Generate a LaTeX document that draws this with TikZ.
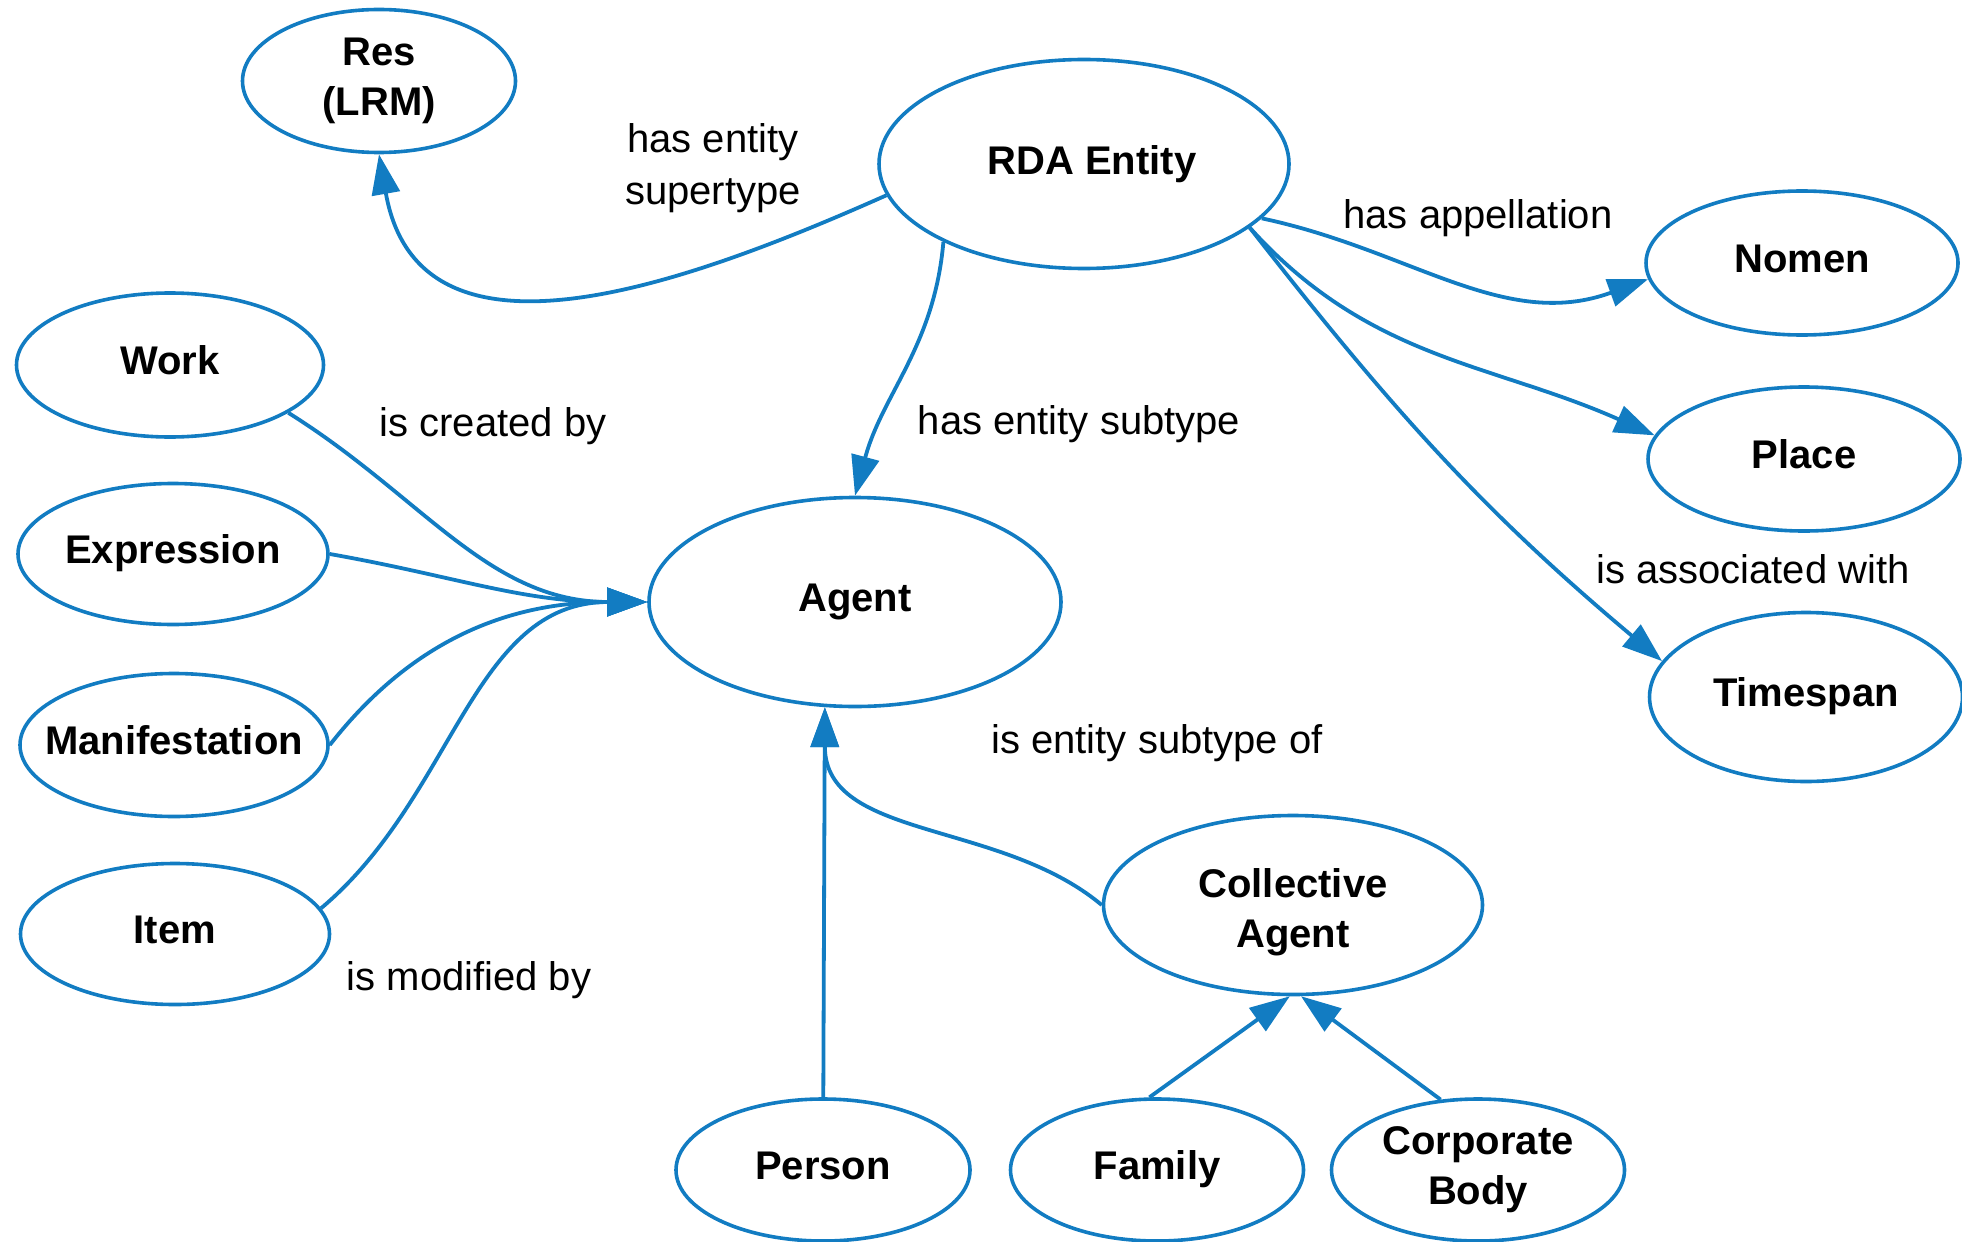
\documentclass[tikz,border=0pt]{standalone}
\usepackage{fontspec}
\setmainfont{Liberation Sans}
\usepackage{tikz}
\usetikzlibrary{arrows.meta}
\usetikzlibrary{shapes.geometric}
\definecolor{rdablue}{RGB}{18,124,194}
\tikzset{>={Triangle[length=20pt,width=14pt]},
  entity/.style={ellipse,draw=rdablue,line width=1.8pt,inner sep=0pt,
    align=center,font=\fontsize{20}{25}\selectfont\bfseries},
  oneline/.style={text depth=4.6pt},
  rel/.style={draw=rdablue,line width=1.9pt,->},
  lbl/.style={align=center,font=\fontsize{20}{26}\selectfont}}

\begin{document}
\begin{tikzpicture}[x=0.5pt,y=-0.5pt]

  \useasboundingbox (0,0) rectangle (1962,1241);

  \node [entity,minimum width=136.5pt,minimum height=71.5pt] (res) at (379,81) {Res\\(LRM)};
  \node [entity,minimum width=205pt,minimum height=104.5pt] (rda) at (1084,164) {\hspace{8pt}RDA Entity};
  \node [entity,oneline,minimum width=156pt,minimum height=72pt] (nomen) at (1802,263) {Nomen};
  \node [entity,oneline,minimum width=156pt,minimum height=72pt] (place) at (1804,459) {Place};
  \node [entity,oneline,minimum width=156.5pt,minimum height=84.5pt] (timespan) at (1806,697) {Timespan};

  \node [entity,oneline,minimum width=153.5pt,minimum height=72pt] (work) at (170,365) {Work};
  \node [entity,oneline,minimum width=155pt,minimum height=70.5pt] (expression) at (173,554) {Expression};
  \node [entity,oneline,inner xsep=-11pt,minimum width=154pt,minimum height=71.5pt] (manifestation) at (174,745) {Manifestation};
  \node [entity,oneline,minimum width=154.5pt,minimum height=70.5pt] (item) at (175,934) {Item};

  \node [entity,oneline,minimum width=206pt,minimum height=104.5pt] (agent) at (855,602) {Agent};
  \node [entity,minimum width=189.5pt,minimum height=89.5pt] (ca) at (1293,905) {\rule{0pt}{22pt}Collective\\Agent};
  \node [entity,oneline,minimum width=147pt,minimum height=71pt] (person) at (823,1170) {Person};
  \node [entity,oneline,minimum width=146.5pt,minimum height=71pt] (family) at (1157,1170) {Family};
  \node [entity,minimum width=146.5pt,minimum height=71pt] (cb) at (1478,1170) {Corporate\\Body};

  % relationships from RDA Entity
  \draw [rel] (rda.189) to [out=204,in=-80,looseness=1.15] (res.south);
  \draw [rel] (rda.209) to [out=-95,in=75] (agent.north);
  \draw [rel] (rda.-17) to [out=-12,in=200] (nomen.186);
  \draw [rel] (rda.-21) to [out=-48,in=156] (place.171);
  \draw [rel] (rda.-21) to [out=-52,in=140] (timespan.166);

  % WEMI to Agent
  \draw [rel] (work.-22) to [out=-32,in=180] (agent.west);
  \draw [rel] (expression.east) to [out=-10,in=180] (agent.west);
  \draw [rel] (manifestation.east) to [out=52,in=180] (agent.west);
  \draw [rel] (item.10) to [out=40,in=180] (agent.west);

  % subtypes
  \draw [rel] (person) -- (agent.-106);
  \draw [rel] (ca.west) to [out=140,in=-90] (agent.-106);
  \draw [rel] (family.96) -- (ca.-92.6);
  \draw [rel] (cb.118) -- (ca.-85);

  \node [lbl] (lsuper) at (713,168) {has entity\\supertype};
  \node [lbl] (lappel) at (1478,218) {has appellation};
  \node [lbl] (lsub) at (1079,424) {has entity subtype};
  \node [lbl] (lassoc) at (1753,569) {is associated with};
  \node [lbl] (lcreated) at (493,426) {is created by};
  \node [lbl] (lmodified) at (469,980) {is modified by};
  \node [lbl] (lsubof) at (1157,743) {is entity subtype of};

\end{tikzpicture}
\end{document}
